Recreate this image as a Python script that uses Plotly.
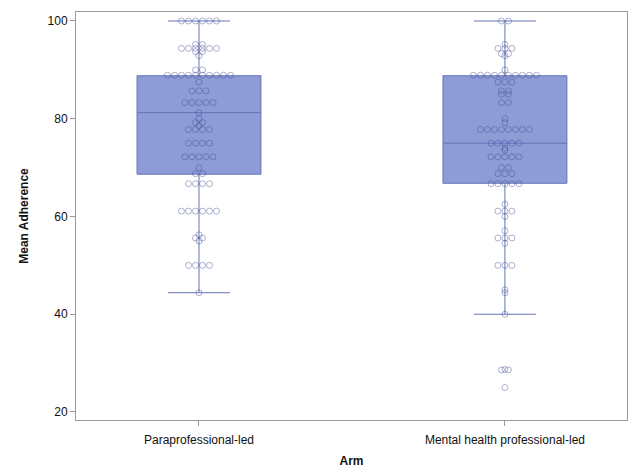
import plotly.graph_objects as go
from collections import Counter

# ---- data ----
arms = ["Paraprofessional-led", "Mental health professional-led"]

para_values = (
    [100] * 6 + [95.2] * 2 + [94.4] * 6 + [93.75] * 2 + [92.9] + [90] * 2 +
    [88.9] * 10 + [87.5] + [85.7] * 3 + [83.3] * 5 + [81.25] + [80] +
    [79.2] * 2 + [78.6] + [77.8] * 4 + [75] * 4 + [72.2] * 5 + [70] +
    [68.75] * 2 + [66.7] * 4 + [61.1] * 6 + [56.25] + [55.6] * 2 + [55] +
    [50] * 4 + [44.4]
)

mh_values = (
    [100] * 2 + [95.2] + [94.4] * 3 + [93.3] * 2 + [92.9] + [90] +
    [88.9] * 10 + [87.5] * 3 + [85.7] * 2 + [85] * 2 + [83.3] * 2 + [80] +
    [79.2] + [77.8] * 8 + [75] * 5 + [74] + [73.6] + [72.2] * 5 + [70] * 2 +
    [68.75] * 3 + [66.7] * 5 + [62.5] + [61.1] * 3 + [60] + [57.1] +
    [55.6] * 3 + [54.5] + [50] * 3 + [45] + [44.4] + [40] +
    [28.6] * 2 + [28.7] + [25]
)

# box statistics
q1 = [68.65, 66.8]
median = [81.25, 75.0]
q3 = [88.8, 88.8]
lowerfence = [44.4, 40.0]
upperfence = [100.0, 100.0]

# ---- styling ----
box_fill = "rgb(141,156,214)"
box_line = "rgb(100,115,185)"
pt_line = "rgba(60,70,140,0.42)"
font_family = "Liberation Sans, Arial, sans-serif"

positions = [0, 1]
spacing = 0.0229  # horizontal spacing between tied points (x units)


def swarm(values, center):
    xs, ys = [], []
    counts = Counter(values)
    for v, n in counts.items():
        for i in range(n):
            xs.append(center + (i - (n - 1) / 2) * spacing)
            ys.append(v)
    return xs, ys


fig = go.Figure()

fig.add_trace(go.Box(
    x=positions,
    q1=q1, median=median, q3=q3,
    lowerfence=lowerfence, upperfence=upperfence,
    width=0.405,
    whiskerwidth=0.5,
    fillcolor=box_fill,
    line=dict(color=box_line, width=1),
    boxpoints=False,
    showlegend=False,
    hoverinfo="skip",
))

for vals, c in [(para_values, positions[0]), (mh_values, positions[1])]:
    xs, ys = swarm(vals, c)
    fig.add_trace(go.Scatter(
        x=xs, y=ys, mode="markers",
        marker=dict(symbol="circle-open", size=6,
                    line=dict(color=pt_line, width=1), color=pt_line),
        showlegend=False,
    ))

fig.update_layout(
    width=628, height=468,
    margin=dict(l=76, r=1, t=12, b=48),
    plot_bgcolor="white", paper_bgcolor="white",
    font=dict(family=font_family, size=12, color="#111"),
)

fig.update_xaxes(
    range=[-0.402, 1.399],
    tickvals=positions, ticktext=arms,
    showgrid=False, zeroline=False,
    showline=True, mirror=True, linecolor="#999", linewidth=1,
    ticks="outside", ticklen=5, tickcolor="#999",
    ticklabelstandoff=4,
    title=dict(text="<b>Arm</b>", font=dict(size=12), standoff=10),
)
fig.update_yaxes(
    range=[18.36, 101.84],
    tickvals=[20, 40, 60, 80, 100],
    showgrid=False, zeroline=False,
    showline=True, mirror=True, linecolor="#999", linewidth=1,
    ticks="outside", ticklen=5, tickcolor="#999",
    title=dict(text="<b>Mean Adherence</b>", font=dict(size=12), standoff=16),
)

fig.write_html("out.html",
               config={"displayModeBar": False},
               post_script="document.body.style.margin='0';"
                           "document.body.style.overflow='hidden';")
